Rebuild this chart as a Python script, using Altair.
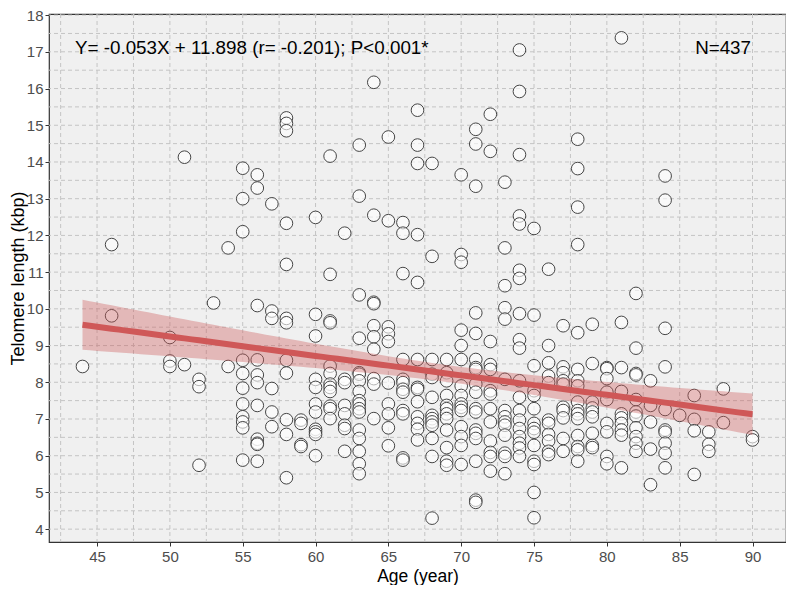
import altair as alt
import numpy as np
import pandas as pd

# ---- telomere length (kbp) read per age (years) ----
t44 = [8.43]
t46 = [11.75, 9.81]
t50 = [9.22, 8.58, 8.43]
t51 = [14.13, 8.48]
t52 = [8.08, 7.88, 5.74]
t53 = [10.16]
t54 = [11.66, 8.43]
t55 = [13.83, 13.0, 12.1, 8.6, 8.24, 7.84, 7.41, 7.06, 6.92, 6.76, 5.88]
t56 = [13.65, 13.29, 10.09, 8.61, 8.2, 7.99, 7.37, 6.45, 6.34, 6.31, 5.85]
t57 = [12.86, 9.94, 9.74, 7.83, 7.19, 6.79]
t58 = [15.2, 15.05, 14.85, 12.33, 11.21, 9.74, 9.62, 8.6, 8.25, 6.98, 6.58, 5.4]
t59 = [6.97, 6.88, 6.3, 6.25]
t60 = [12.49, 9.85, 9.26, 8.08, 7.86, 7.41, 7.19, 6.72, 6.65, 6.58, 6.0]
t61 = [14.16, 10.94, 9.67, 9.62, 8.44, 8.24, 7.95, 7.86, 7.75, 7.35, 7.28, 7.01]
t62 = [12.06, 8.08, 7.99, 7.37, 7.14, 6.83, 6.74, 6.12]
t63 = [14.46, 13.07, 10.38, 9.2, 8.26, 8.22, 8.04, 7.75, 7.5, 7.41, 7.28, 7.19,
       6.7, 6.47, 6.12, 5.78, 5.51]
t64 = [16.17, 12.55, 10.18, 10.14, 9.54, 9.24, 8.9, 8.1, 7.95, 7.01]
t65 = [14.68, 12.4, 9.51, 9.32, 9.11, 7.98, 7.41, 7.14, 6.76, 6.27]
t66 = [12.35, 12.06, 10.96, 8.62, 8.08, 7.99, 7.81, 7.73, 7.23, 7.14, 5.94, 5.88]
t67 = [15.41, 14.46, 13.96, 12.02, 10.72, 8.62, 7.86, 7.81, 7.47, 7.06, 6.88, 6.72, 6.43]
t68 = [13.96, 11.43, 8.62, 8.22, 8.13, 7.59, 7.1, 7.01, 6.92, 6.83, 6.47, 5.98, 4.3]
t69 = [8.62, 8.26, 8.04, 7.64, 7.37, 7.28, 7.14, 7.01, 6.7, 6.22, 5.85, 5.74]
t70 = [13.65, 11.48, 11.27, 9.42, 9.0, 8.62, 7.9, 7.64, 7.41, 7.32, 7.23, 6.79,
       6.52, 6.28, 5.76]
t71 = [14.89, 14.49, 13.34, 9.89, 9.33, 8.62, 8.4, 8.35, 7.95, 7.73, 7.28, 7.19,
       6.7, 6.61, 6.47, 5.85, 4.79, 4.73]
t72 = [15.3, 14.29, 9.11, 8.48, 8.35, 7.77, 7.68, 7.28, 6.92, 6.4, 6.09, 5.98, 5.58]
t73 = [13.45, 11.66, 10.63, 10.03, 9.72, 8.08, 7.23, 7.06, 6.92, 6.83, 6.56, 6.07,
       5.98, 5.51]
t74 = [17.05, 15.92, 14.2, 12.53, 12.31, 11.05, 10.83, 9.87, 9.16, 8.93, 8.04, 7.59,
       7.23, 6.97, 6.74, 6.52, 6.34, 6.21, 5.98]
t75 = [12.19, 9.83, 8.45, 7.77, 7.64, 7.28, 6.88, 6.74, 6.64, 6.28, 5.85, 5.76, 5.0, 4.31]
t76 = [11.08, 9.0, 8.53, 8.17, 7.99, 6.97, 6.88, 6.58, 6.4, 6.12, 6.03]
t77 = [9.54, 8.42, 8.26, 8.04, 7.95, 7.32, 7.23, 7.03, 6.47, 6.12]
t78 = [14.62, 13.82, 12.77, 11.75, 9.35, 8.35, 8.04, 7.9, 7.46, 7.23, 7.14, 7.01,
       6.55, 6.25, 6.16, 5.85]
t79 = [9.58, 8.51, 7.46, 7.3, 7.19, 7.06, 6.61, 6.28, 6.22]
t80 = [8.4, 8.37, 8.1, 7.73, 7.53, 6.88, 6.65, 5.98, 5.78]
t81 = [17.38, 9.63, 8.4, 7.75, 7.14, 7.03, 6.88, 6.7, 6.56, 5.67]
t82 = [10.42, 8.93, 8.24, 8.2, 7.53, 7.19, 7.08, 6.76, 6.52, 6.34, 6.12]
t83 = [8.04, 7.37, 6.92, 6.18, 5.21]
t84 = [13.62, 12.96, 9.47, 8.42, 7.26, 6.7, 6.64, 6.34, 6.07, 5.67]
t85 = [7.1]
t86 = [7.64, 6.99, 6.68, 5.49]
t87 = [6.65, 6.31, 6.12]
t88 = [7.82, 6.9]
t90 = [6.52, 6.43]

columns = [(44, t44), (46, t46), (50, t50), (51, t51), (52, t52), (53, t53), (54, t54),
           (55, t55), (56, t56), (57, t57), (58, t58), (59, t59), (60, t60), (61, t61),
           (62, t62), (63, t63), (64, t64), (65, t65), (66, t66), (67, t67), (68, t68),
           (69, t69), (70, t70), (71, t71), (72, t72), (73, t73), (74, t74), (75, t75),
           (76, t76), (77, t77), (78, t78), (79, t79), (80, t80), (81, t81), (82, t82),
           (83, t83), (84, t84), (85, t85), (86, t86), (87, t87), (88, t88), (90, t90)]

# reported regression
slope = -0.053
intercept = 11.898
annot_left = "Y= -0.053X + 11.898 (r= -0.201); P<0.001*"
annot_right = "N=437"
n_reported = 437

# axis ticks (labelled) and grid lines (major + minor)
x_ticks = [45, 50, 55, 60, 65, 70, 75, 80, 85, 90]
y_ticks = [4, 5, 6, 7, 8, 9, 10, 11, 12, 13, 14, 15, 16, 17, 18]
x_grid = [42.5 + 2.5 * i for i in range(20)]
y_grid = [4.0 + 0.5 * i for i in range(29)]

rows = [{"age": a, "tl": v} for a, vals in columns for v in vals]
df = pd.DataFrame(rows)

# confidence band of the fitted line
xv = df["age"].to_numpy(dtype=float)
yv = df["tl"].to_numpy(dtype=float)
resid = yv - (intercept + slope * xv)
s = np.sqrt((resid ** 2).sum() / (len(xv) - 2))
xbar = xv.mean()
sxx = ((xv - xbar) ** 2).sum() * n_reported / len(xv)
grid = np.linspace(xv.min(), xv.max(), 93)
fit = intercept + slope * grid
se = s * np.sqrt(1.0 / n_reported + (grid - xbar) ** 2 / sxx)
band = pd.DataFrame({"age": grid, "fit": fit, "lo": fit - 1.966 * se, "hi": fit + 1.966 * se})

grid_color = "#C4C4C4"
FONT = "Liberation Sans"

x_scale = alt.Scale(domain=[41.7, 92.3], nice=False, zero=False)
y_scale = alt.Scale(domain=[3.65, 18.03], nice=False, zero=False)

x_axis = alt.Axis(
    values=x_ticks, format="d", labelOverlap=False, grid=False,
    domain=False, ticks=True, tickColor="#333333", tickSize=4,
    labelFontSize=15, labelColor="#4D4D4D", labelPadding=3, labelFont=FONT,
    title="Age  (year)", titleFontSize=17.5, titleFontWeight="normal", titleColor="#000000",
    titleFont=FONT, titlePadding=3,
)
y_axis = alt.Axis(
    values=y_ticks, format="d", labelOverlap=False, grid=False,
    domain=False, ticks=True, tickColor="#333333", tickSize=4,
    labelFontSize=15, labelColor="#4D4D4D", labelPadding=2, labelFont=FONT,
    title="Telomere length (kbp)", titleFontSize=18, titleFontWeight="normal",
    titleColor="#000000", titleFont=FONT, titleX=-22,
)

vgrid = alt.Chart(pd.DataFrame({"g": x_grid})).mark_rule(
    color=grid_color, strokeDash=[4, 3], strokeWidth=1,
).encode(x=alt.X("g:Q", scale=x_scale, axis=x_axis))

hgrid = alt.Chart(pd.DataFrame({"g": y_grid})).mark_rule(
    color=grid_color, strokeDash=[4, 3], strokeWidth=1,
).encode(y=alt.Y("g:Q", scale=y_scale, axis=y_axis))

points = alt.Chart(df).mark_point(
    shape="circle", size=160, fill="white", fillOpacity=0.6,
    stroke="#454545", strokeWidth=1, opacity=1,
).encode(
    x=alt.X("age:Q", scale=x_scale, axis=x_axis),
    y=alt.Y("tl:Q", scale=y_scale, axis=y_axis),
)

band_layer = alt.Chart(band).mark_area(color="#CD5C5C", opacity=0.38).encode(
    x=alt.X("age:Q", scale=x_scale, axis=x_axis),
    y=alt.Y("lo:Q", scale=y_scale, axis=y_axis),
    y2="hi:Q",
)

line_layer = alt.Chart(band).mark_line(color="#CF5858", strokeWidth=6).encode(
    x=alt.X("age:Q", scale=x_scale, axis=x_axis),
    y=alt.Y("fit:Q", scale=y_scale, axis=y_axis),
)

text_df = pd.DataFrame({"left": [annot_left], "right": [annot_right]})
text_left = alt.Chart(text_df).mark_text(
    align="left", baseline="middle", fontSize=18.8, font=FONT, color="#000000",
).encode(x=alt.value(26), y=alt.value(34), text="left:N")
text_right = alt.Chart(text_df).mark_text(
    align="right", baseline="middle", fontSize=18.8, font=FONT, color="#000000",
).encode(x=alt.value(702), y=alt.value(34), text="right:N")

chart = alt.layer(vgrid, hgrid, points, band_layer, line_layer, text_left, text_right).properties(
    width=737, height=528,
    autosize=alt.AutoSizeParams(type="none"),
    padding={"left": 41, "top": 6, "right": 0, "bottom": 43},
    background="white",
).configure_view(
    stroke="#333333", strokeWidth=1.2, fill="#F0F0F0",
)

chart.save("out.html", embed_options={"renderer": "svg", "actions": False})
